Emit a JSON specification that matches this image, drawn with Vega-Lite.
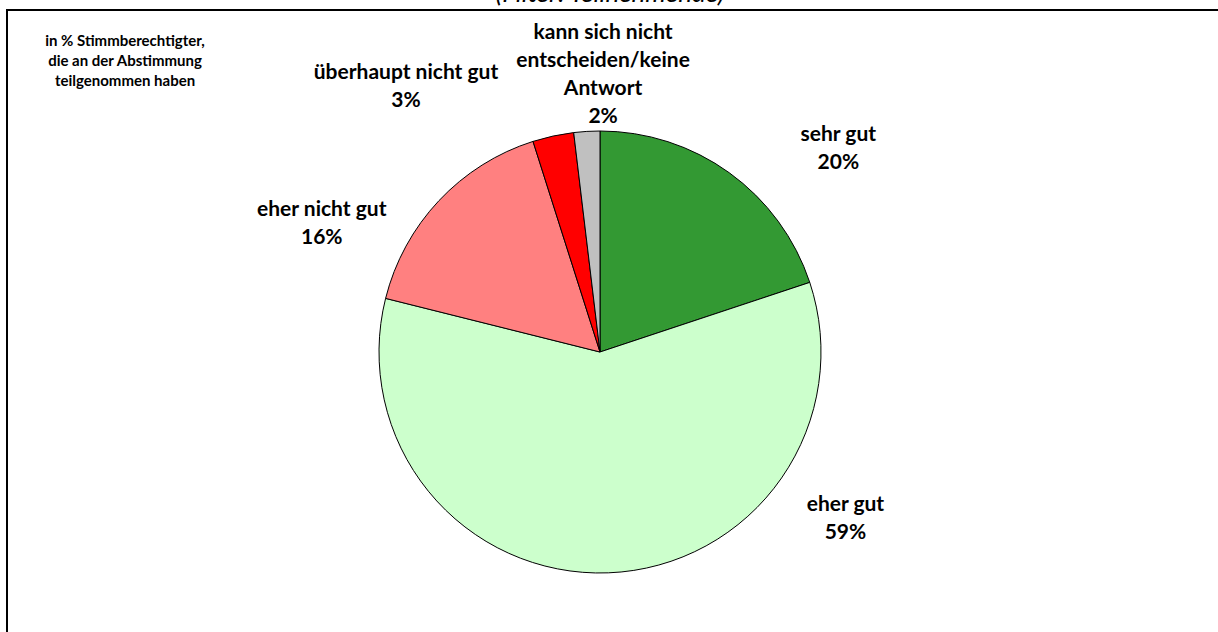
{
  "$schema": "https://vega.github.io/schema/vega-lite/v6.json",
  "autosize": {"type": "none"},
  "width": 1240,
  "height": 684,
  "padding": {"left": 7, "top": 10, "right": -29, "bottom": -62},
  "background": "white",
  "view": {"stroke": "black", "strokeWidth": 2},
  "title": {
    "text": "(Filter: Teilnehmende)",
    "anchor": "middle",
    "frame": "group",
    "font": "Lato",
    "fontSize": 26,
    "fontStyle": "italic",
    "fontWeight": "normal",
    "color": "black",
    "offset": 3,
    "dx": -17
  },
  "data": {
    "values": [
      {"rang": 1, "kategorie": "sehr gut", "anteil": 19.9, "beschriftung": "sehr gut\n20%"},
      {"rang": 2, "kategorie": "eher gut", "anteil": 59.0, "beschriftung": "eher gut\n59%"},
      {"rang": 3, "kategorie": "eher nicht gut", "anteil": 16.2, "beschriftung": "eher nicht gut\n16%"},
      {"rang": 4, "kategorie": "überhaupt nicht gut", "anteil": 3.0, "beschriftung": "überhaupt nicht gut\n3%"},
      {"rang": 5, "kategorie": "kann sich nicht entscheiden/keine Antwort", "anteil": 1.9, "beschriftung": "kann sich nicht\nentscheiden/keine\nAntwort\n2%"}
    ]
  },
  "encoding": {
    "theta": {"field": "anteil", "type": "quantitative", "stack": true},
    "order": {"field": "rang", "type": "ordinal"}
  },
  "layer": [
    {
      "mark": {"type": "arc", "outerRadius": 221, "stroke": "black", "strokeWidth": 1, "x": {"expr": "width/2 - 27"}},
      "encoding": {
        "color": {
          "field": "kategorie",
          "type": "nominal",
          "sort": null,
          "scale": {
            "domain": ["sehr gut", "eher gut", "eher nicht gut", "überhaupt nicht gut", "kann sich nicht entscheiden/keine Antwort"],
            "range": ["#339933", "#CCFFCC", "#FF8080", "#FF0000", "#C0C0C0"]
          },
          "legend": {
            "orient": "none",
            "legendX": 38,
            "legendY": 24,
            "padding": 0,
            "title": ["in % Stimmberechtigter,", "die an der Abstimmung", "teilgenommen haben"],
            "titleFont": "Lato",
            "titleFontSize": 15,
            "titleFontWeight": "bold",
            "titleColor": "black",
            "titleLineHeight": 20,
            "titleAlign": "center",
            "titleAnchor": "middle",
            "titleLimit": 0,
            "labelExpr": "''",
            "labelFontSize": 1,
            "symbolOpacity": 0,
            "symbolStrokeWidth": 0,
            "symbolSize": 1,
            "rowPadding": 0
          }
        }
      }
    },
    {
      "mark": {
        "type": "text",
        "radius": 250,
        "x": {"expr": "width/2 - 27"},
        "font": "Lato",
        "fontSize": 21,
        "fontWeight": "bold",
        "color": "black",
        "align": "center",
        "baseline": "middle",
        "lineBreak": "\n",
        "lineHeight": 28,
        "dx": {"expr": "datum.rang == 1 ? 92 : datum.rang == 2 ? 236 : datum.rang == 3 ? -96 : datum.rang == 4 ? -141 : 18"},
        "dy": {"expr": "datum.rang == 1 ? -14 : datum.rang == 2 ? -97 : datum.rang == 3 ? 29 : datum.rang == 4 ? -35 : -69"}
      },
      "encoding": {
        "text": {"field": "beschriftung", "type": "nominal"}
      }
    }
  ]
}
